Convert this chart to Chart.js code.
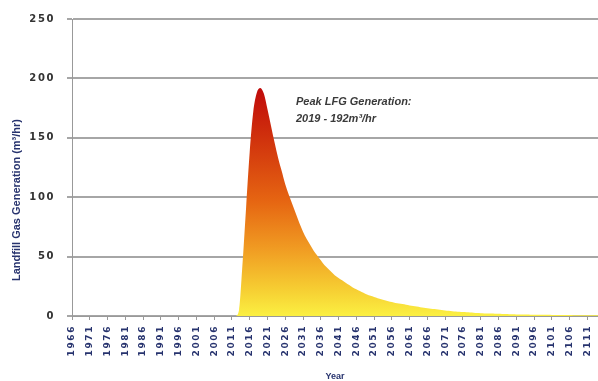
<!DOCTYPE html>
<html>
<head>
<meta charset="utf-8">
<script src="https://cdn.jsdelivr.net/npm/chart.js@4.4.1/dist/chart.umd.min.js"></script>
<style>
  body { margin: 0; background: #fff; }
  #wrap { width: 598px; height: 381px; position: relative; }
</style>
</head>
<body>
<div id="wrap"><canvas id="chart"></canvas></div>
<script>
// years 1966 .. 2114, one value per year
const years = Array.from({ length: 149 }, (_, i) => String(1966 + i));

// landfill gas generation, m3/hr
const lfgRate = [
  0, 0, 0, 0, 0, 0, 0, 0, 0, 0,
  0, 0, 0, 0, 0, 0, 0, 0, 0, 0,
  0, 0, 0, 0, 0, 0, 0, 0, 0, 0,
  0, 0, 0, 0, 0, 0, 0, 0, 0, 0,
  0, 0, 0, 0, 0, 0, 0,
  5, 45, 92, 138, 172, 188, 192,
  187, 174, 160, 146, 133, 122, 111, 102, 94, 86,
  78, 71, 65, 60, 55, 51, 47, 43, 40, 37,
  34, 32, 30, 28, 26, 24, 22.5, 21, 19.5, 18,
  17, 16, 15, 14, 13.2, 12.5, 11.8, 11, 10.5, 10,
  9.4, 8.9, 8.4, 7.9, 7.4, 7, 6.6, 6.2, 5.8, 5.4,
  5, 4.7, 4.4, 4.1, 3.8, 3.5, 3.3, 3.1, 2.9, 2.7,
  2.5, 2.4, 2.2, 2.1, 2, 1.9, 1.8, 1.7, 1.6, 1.5,
  1.4, 1.35, 1.3, 1.25, 1.2, 1.15, 1.1, 1.05, 1, 1,
  0.95, 0.9, 0.9, 0.85, 0.8, 0.8, 0.75, 0.7, 0.7, 0.65,
  0.6, 0.6, 0.6, 0.55, 0.55
];

const yTicks = [0, 50, 100, 150, 200, 250];
const peakNote = ['Peak LFG Generation:', '2019 - 192m\u00B3/hr'];

const navy = '#27336e';
const gridGrey = '#a6a6a6';

// axis titles + peak note drawn by hand so the tick spacing doesn't leak into them
const notes = {
  id: 'notes',
  afterDraw(chart) {
    const ctx = chart.ctx;
    const area = chart.chartArea;
    ctx.save();
    ctx.letterSpacing = '0px';
    ctx.fillStyle = '#3a3a3a';
    ctx.font = 'italic bold 11px "Liberation Sans", Arial, sans-serif';
    ctx.textAlign = 'left';
    ctx.textBaseline = 'alphabetic';
    ctx.fillText(peakNote[0], 296, 105);
    ctx.fillText(peakNote[1], 296, 122);

    ctx.fillStyle = navy;
    ctx.font = 'bold 9px "Liberation Sans", Arial, sans-serif';
    ctx.textAlign = 'center';
    ctx.textBaseline = 'middle';
    ctx.fillText('Year', (area.left + area.right) / 2, 377);

    ctx.translate(17, 200);
    ctx.rotate(-Math.PI / 2);
    ctx.font = 'bold 11px "Liberation Sans", Arial, sans-serif';
    ctx.fillText('Landfill Gas Generation (m\u00B3/hr)', 0, 0);
    ctx.restore();
  }
};

new Chart(document.getElementById('chart'), {
  type: 'line',
  data: {
    labels: years,
    datasets: [{
      data: lfgRate,
      fill: 'origin',
      borderWidth: 0,
      borderColor: 'rgba(0,0,0,0)',
      pointRadius: 0,
      cubicInterpolationMode: 'monotone',
      backgroundColor(c) {
        const chart = c.chart;
        if (!chart.chartArea) return '#f5a020';
        const y = chart.scales.y;
        const g = chart.ctx.createLinearGradient(0, y.getPixelForValue(192), 0, y.getPixelForValue(0));
        g.addColorStop(0, '#c00a0a');
        g.addColorStop(0.3, '#d6400e');
        g.addColorStop(0.5, '#e66612');
        g.addColorStop(0.7, '#f09a22');
        g.addColorStop(0.88, '#f6cd32');
        g.addColorStop(1, '#fbf042');
        return g;
      }
    }]
  },
  options: {
    responsive: true,
    maintainAspectRatio: false,
    animation: false,
    layout: { padding: { top: 19, right: 0, bottom: 0, left: 0 } },
    plugins: { legend: { display: false }, tooltip: { enabled: false } },
    scales: {
      x: {
        offset: false,
        grid: {
          drawOnChartArea: false,
          tickLength: 4,
          color: c => (c.index % 5 === 0 ? '#999' : 'rgba(0,0,0,0)')
        },
        border: { color: '#999', width: 1 },
        ticks: {
          autoSkip: false,
          minRotation: 90,
          maxRotation: 90,
          padding: 5,
          color: navy,
          font: { family: '"DejaVu Sans", sans-serif', size: 9, weight: 'bold' },
          callback(v, i) { return i % 5 === 0 ? years[i] : ''; }
        },
        afterFit(s) {
          s.height = 65;
          s.paddingLeft = 0;
          s.paddingRight = 0;
        }
      },
      y: {
        min: 0,
        max: 250,
        afterBuildTicks(s) { s.ticks = yTicks.map(v => ({ value: v })); },
        grid: { color: gridGrey, lineWidth: 2, tickLength: 5 },
        border: { color: '#999', width: 1 },
        ticks: {
          padding: 12,
          color: '#333',
          font: { family: '"DejaVu Sans", sans-serif', size: 10, weight: 'bold' }
        },
        afterFit(s) {
          s.width = 72;
          s.paddingTop = 0;
          s.paddingBottom = 0;
        }
      }
    }
  },
  plugins: [{
    id: 'spacing',
    beforeDraw(chart) { chart.ctx.letterSpacing = '1.6px'; }
  }, notes]
});
</script>
</body>
</html>
